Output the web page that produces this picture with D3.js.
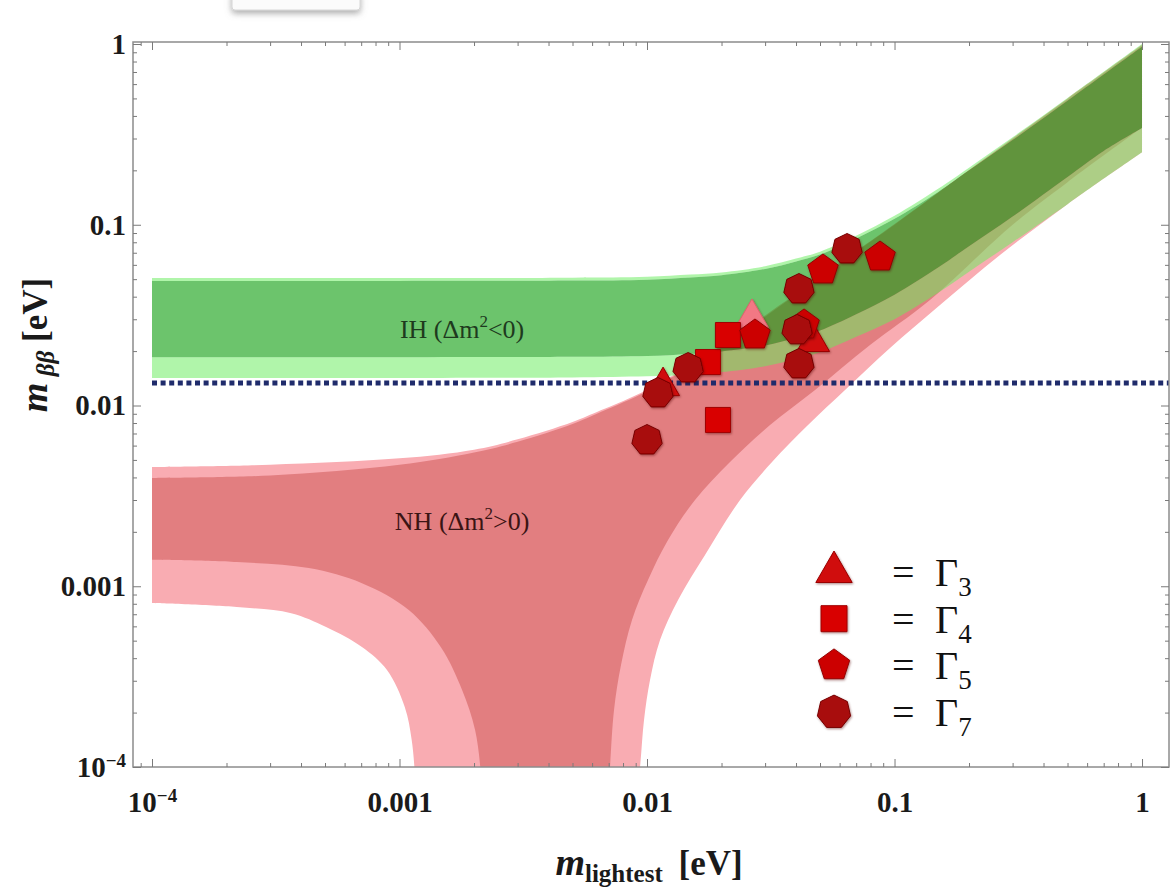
<!DOCTYPE html>
<html><head><meta charset="utf-8">
<script src="https://cdn.jsdelivr.net/npm/d3@7"></script>
<style>body{margin:0;background:#fff}svg{display:block}</style>
</head><body>
<svg id="chart" width="1176" height="889"></svg>
<script>
// ---------------- data ----------------
const ihM      = [1e-4, 1e-3, 0.005, 0.01, 0.015, 0.02, 0.03, 0.04, 0.05, 0.07, 0.1, 0.15, 0.2, 0.3, 0.5, 0.7, 1];
const ihUpper3 = [0.0507,0.0507,0.0509,0.0515,0.053,0.0545,0.059,0.065,0.071,0.087,0.112,0.158,0.207,0.305,0.503,0.702,1.0];
const ihUpper1 = [0.0489,0.0489,0.0491,0.0497,0.0511,0.0526,0.057,0.0627,0.0685,0.084,0.108,0.152,0.2,0.294,0.485,0.677,0.965];
const ihLower1 = [0.0185,0.0185,0.0186,0.0188,0.0193,0.0199,0.0215,0.0237,0.026,0.032,0.041,0.058,0.076,0.111,0.184,0.256,0.343];
const ihLower3 = [0.0142,0.0142,0.0143,0.0145,0.0148,0.0153,0.0165,0.018,0.0197,0.024,0.030,0.042,0.055,0.08,0.13,0.18,0.252];

const nhM      = [1e-4, 3e-4, 1e-3, 2e-3, 3e-3, 5e-3, 0.0065, 0.01, 0.015, 0.02, 0.03, 0.05, 0.07, 0.1, 0.2, 0.5, 1];
const nhUpper3 = [0.00457,0.0047,0.0051,0.0057,0.0065,0.0081,0.0094,0.0122,0.0168,0.0215,0.0315,0.0515,0.0715,0.101,0.201,0.5,0.99];
const nhUpper1 = [0.00397,0.0041,0.0047,0.0055,0.0063,0.0079,0.0092,0.012,0.0165,0.021,0.031,0.051,0.071,0.1,0.2,0.495,0.98];
// lower edge, small-m branch (ascending m)
const nhLeft1  = [[1e-4,0.00140],[2.2e-4,0.00136],[4.3e-4,0.00126],[7.05e-4,0.00104],[1.09e-3,7.4e-4],[1.47e-3,4.6e-4],[1.79e-3,2.67e-4],[2.02e-3,1.6e-4],[2.15e-3,8e-5],[2.2e-3,4e-5]];
const nhLeft3  = [[1e-4,8.07e-4],[2.2e-4,7.67e-4],[3.65e-4,7.1e-4],[5.05e-4,5.95e-4],[7.05e-4,4.61e-4],[8.9e-4,3.44e-4],[1.05e-3,2.15e-4],[1.12e-3,1.41e-4],[1.16e-3,8e-5],[1.18e-3,4e-5]];
// lower edge, large-m branch (ascending m)
const nhRight1 = [[0.006957,6.57e-5],[0.007088,1e-4],[0.007357,2.07e-4],[0.007851,3.67e-4],[0.008697,6.51e-4],[0.010093,1.083e-3],[0.012159,1.803e-3],[0.015628,3.0e-3],[0.021645,4.868e-3],[0.031405,7.80e-3],[0.047743,0.01218],[0.07962,0.02162],[0.1391,0.03835],[0.3,0.1],[0.5,0.172],[1,0.345]];
const nhRight3 = [[0.009028,6.57e-5],[0.00937,1e-4],[0.009725,1.82e-4],[0.010283,3.03e-4],[0.011285,5.04e-4],[0.013348,8.39e-4],[0.017152,1.489e-3],[0.023757,3.0e-3],[0.031994,4.868e-3],[0.044719,7.80e-3],[0.0631,0.01218],[0.0959,0.0208],[0.1527,0.03597],[0.2668,0.068],[0.5,0.13],[1,0.252]];

const sensitivity = 0.0133;

const gamma3      = [[0.01161,0.0128],[0.0469,0.02245]];
const gamma3Ghost = [[0.02654,0.0305]];
const gamma4      = [[0.01763,0.0174],[0.02123,0.02455],[0.01935,0.00832]];
const gamma5      = [[0.0273,0.02455],[0.0431,0.0279],[0.0514,0.0562],[0.0874,0.0663]];
const gamma7      = [[0.0100,0.00644],[0.01107,0.01173],[0.01466,0.01612],[0.0411,0.0441],[0.0404,0.0262],[0.0411,0.01698],[0.0643,0.0734]];

const legendSubs  = ["3","4","5","7"];
const xMajor = [1e-4, 1e-3, 1e-2, 0.1, 1];
const xLabels = ["10^-4","0.001","0.01","0.1","1"];
const yMajor = [1e-4, 1e-3, 1e-2, 0.1, 1];
const yLabels = ["10^-4","0.001","0.01","0.1","1"];
const ihText = "IH";
const nhText = "NH";

// ---------------- layout ----------------
const svg = d3.select("#chart");
const L = 133, R = 1169, T = 42, B = 767;
const x = d3.scaleLog().domain([Math.pow(10,-4.0768), Math.pow(10,0.109)]).range([L, R]);
const y = d3.scaleLog().domain([1e-4, 1]).range([B, 44]);
const fontFam = "Liberation Serif, Times New Roman, serif";

const defs = svg.append("defs");
defs.append("clipPath").attr("id","clip").append("rect").attr("x",L).attr("y",T).attr("width",R-L).attr("height",B-T);
const f = defs.append("filter").attr("id","msh").attr("x","-30%").attr("y","-30%").attr("width","160%").attr("height","160%");
f.append("feDropShadow").attr("dx",0.8).attr("dy",1.2).attr("stdDeviation",1.2).attr("flood-color","#500").attr("flood-opacity",0.45);
const f2 = defs.append("filter").attr("id","boxsh").attr("x","-20%").attr("y","-100%").attr("width","140%").attr("height","400%");
f2.append("feDropShadow").attr("dx",0).attr("dy",3).attr("stdDeviation",3).attr("flood-color","#777").attr("flood-opacity",0.6);

// stray box at the top
svg.append("rect").attr("x",232).attr("y",-10).attr("width",128).attr("height",20).attr("rx",3)
  .attr("fill","#fbfbfb").attr("stroke","#d6d6d6").attr("filter","url(#boxsh)");

const line = d3.line().x(d=>x(d[0])).y(d=>y(d[1])).curve(d3.curveCatmullRom.alpha(0.5));
function seg(pts, first){ const s = line(pts); return first ? s : "L" + s.slice(1); }
const zip = (m, v) => m.map((d,i)=>[d, v[i]]);
function band(top, bottomAsc){ return seg(top,true) + seg(bottomAsc.slice().reverse(),false) + "Z"; }

const g = svg.append("g").attr("clip-path","url(#clip)");

// NH regions (opaque)
const nhPath = (up, right, left) => seg(up,true) + seg(right.slice().reverse(),false) + seg(left.slice().reverse(),false) + "Z";
g.append("path").attr("d", nhPath(zip(nhM,nhUpper3), nhRight3, nhLeft3)).attr("fill","#f9acb2");
g.append("path").attr("d", nhPath(zip(nhM,nhUpper1), nhRight1, nhLeft1)).attr("fill","#e27e80");

// IH regions (translucent)
g.append("path").attr("d", band(zip(ihM,ihUpper3), zip(ihM,ihUpper1))).attr("fill","rgb(106,236,94)").attr("fill-opacity",0.53);
g.append("path").attr("d", band(zip(ihM,ihLower1), zip(ihM,ihLower3))).attr("fill","rgb(106,236,94)").attr("fill-opacity",0.53);
g.append("path").attr("d", band(zip(ihM,ihUpper1), zip(ihM,ihLower1))).attr("fill","rgb(22,162,22)").attr("fill-opacity",0.63);

// sensitivity line
g.append("line").attr("x1",x(1e-4)).attr("x2",R).attr("y1",y(sensitivity)).attr("y2",y(sensitivity))
  .attr("stroke","#1f2b6b").attr("stroke-width",5).attr("stroke-dasharray","5,3.6");

// region labels
function regionLabel(txt, sign, m, v, col){
  const t = svg.append("text").attr("x",x(m)).attr("y",y(v)).attr("text-anchor","middle")
    .attr("font-family",fontFam).attr("font-size",26).attr("fill",col);
  t.append("tspan").text(txt + " (\u0394m");
  t.append("tspan").attr("font-size",17).attr("dy",-11).text("2");
  t.append("tspan").attr("dy",11).text(sign + "0)");
}
regionLabel(ihText, "<", 0.00179, 0.0235, "#1e3a1e");
regionLabel(nhText, ">", 0.00179, 0.00205, "#3a1414");

// markers
function poly(n, r, rot){ const p = d3.range(n).map(i=>{const a=(rot||0)+2*Math.PI*i/n-Math.PI/2; return [r*Math.cos(a), r*Math.sin(a)];}); return "M"+p.join("L")+"Z"; }
const shapes = {
  tri:  {d: poly(3,19), fill:"#d00a0a", stroke:"#9a0000"},
  ghost:{d: poly(3,19), fill:"#f27884", stroke:"#e0606c"},
  sq:   {d: "M-12.5,-12.5H12.5V12.5H-12.5Z", fill:"#d90505", stroke:"#a00000"},
  pent: {d: poly(5,16), fill:"#cc0606", stroke:"#930000"},
  hept: {d: poly(7,15.5), fill:"#a80c0c", stroke:"#760000"}
};
const legendShapes = [
  {d: poly(3,21), fill:"#d00a0a", stroke:"#9a0000"},
  {d: "M-13,-13H13V13H-13Z", fill:"#d90505", stroke:"#a00000"},
  {d: poly(5,16.5), fill:"#cc0606", stroke:"#930000"},
  {d: poly(7,17), fill:"#a80c0c", stroke:"#760000"}
];
const mg = svg.append("g");
function drawMarkers(data, s){
  mg.selectAll(null).data(data).enter().append("path")
    .attr("transform", d=>`translate(${x(d[0])},${y(d[1])})`)
    .attr("d", s.d).attr("fill", s.fill).attr("stroke", s.stroke).attr("stroke-width",1).attr("filter","url(#msh)");
}
drawMarkers(gamma3Ghost, shapes.ghost);
drawMarkers(gamma3, shapes.tri);
drawMarkers(gamma4, shapes.sq);
drawMarkers(gamma5, shapes.pent);
drawMarkers(gamma7, shapes.hept);

// legend
const lg = svg.append("g").attr("transform","translate(834,572)");
legendSubs.forEach((s,i)=>{
  const row = lg.append("g").attr("transform",`translate(0,${i*46.7})`);
  row.append("path").attr("d", legendShapes[i].d).attr("fill",legendShapes[i].fill).attr("stroke",legendShapes[i].stroke).attr("filter","url(#msh)");
  const t = row.append("text").attr("y",14).attr("font-family",fontFam).attr("font-size",40).attr("fill","#111");
  t.append("tspan").attr("x",58).text("=");
  t.append("tspan").attr("x",101).text("\u0393");
  t.append("tspan").attr("font-size",27).attr("dy",10).text(s);
});

// frame & ticks
const axG = svg.append("g");
axG.append("rect").attr("x",L).attr("y",T).attr("width",R-L).attr("height",B-T).attr("fill","none").attr("stroke","#8c8c8c").attr("stroke-width",1.5);
function minors(scale){ const [a,b] = scale.domain(); const out=[]; for(let e=-5;e<=1;e++) for(let k=2;k<=9;k++){const v=k*Math.pow(10,e); if(v>=Math.min(a,b) && v<=Math.max(a,b)) out.push(v);} return out; }
function styleAx(s){ s.select(".domain").remove(); s.selectAll("line").attr("stroke","#7a7a7a"); s.selectAll("text").attr("font-family",fontFam).attr("font-weight","bold").attr("font-size",29).attr("fill","#1a1a1a"); }
const fmtX = d => xLabels[xMajor.indexOf(d)];
const fmtY = d => yLabels[yMajor.indexOf(d)];
// bottom
axG.append("g").attr("transform",`translate(0,${B})`).call(d3.axisBottom(x).tickValues(minors(x)).tickSize(-4).tickFormat("")).call(styleAx);
const bx = axG.append("g").attr("transform",`translate(0,${B})`).call(d3.axisBottom(x).tickValues(xMajor).tickSize(-8).tickPadding(24).tickFormat(fmtX)).call(styleAx);
// top
axG.append("g").attr("transform",`translate(0,${T})`).call(d3.axisTop(x).tickValues(minors(x)).tickSize(-4).tickFormat("")).call(styleAx);
axG.append("g").attr("transform",`translate(0,${T})`).call(d3.axisTop(x).tickValues(xMajor).tickSize(-8).tickFormat("")).call(styleAx);
// left
axG.append("g").attr("transform",`translate(${L},0)`).call(d3.axisLeft(y).tickValues(minors(y)).tickSize(-4).tickFormat("")).call(styleAx);
const ly = axG.append("g").attr("transform",`translate(${L},0)`).call(d3.axisLeft(y).tickValues(yMajor).tickSize(-8).tickPadding(7).tickFormat(fmtY)).call(styleAx);
// right
axG.append("g").attr("transform",`translate(${R},0)`).call(d3.axisRight(y).tickValues(minors(y)).tickSize(-4).tickFormat("")).call(styleAx);
axG.append("g").attr("transform",`translate(${R},0)`).call(d3.axisRight(y).tickValues(yMajor).tickSize(-8).tickFormat("")).call(styleAx);

// superscript labels
function supify(sel){
  sel.selectAll("text").each(function(){
    const t = d3.select(this); const s = t.text();
    if(s.indexOf("^")>=0){
      const [base, ex] = s.split("^");
      t.text("");
      t.append("tspan").text(base);
      t.append("tspan").attr("font-size",19).attr("dy","-0.5em").text(ex.replace("-","\u2212"));
    }
  });
}
supify(bx); supify(ly);

// axis titles
const xt = svg.append("text").attr("x",649).attr("y",875).attr("text-anchor","middle").attr("font-family",fontFam).attr("font-weight","bold").attr("fill","#1a1a1a");
xt.append("tspan").attr("font-style","italic").attr("font-size",38).text("m");
xt.append("tspan").attr("font-size",25).attr("dy",7).text("lightest");
xt.append("tspan").attr("font-size",35).attr("dy",-7).text("\u2009 [eV]");

const yt = svg.append("text").attr("transform","translate(47,345) rotate(-90)").attr("text-anchor","middle").attr("font-family",fontFam).attr("font-weight","bold").attr("fill","#1a1a1a");
yt.append("tspan").attr("font-style","italic").attr("font-size",38).text("m");
yt.append("tspan").attr("font-style","italic").attr("font-size",25).attr("dy",7).text(" \u03b2\u03b2");
yt.append("tspan").attr("font-size",35).attr("dy",-7).text(" [eV]");
</script>
</body></html>
